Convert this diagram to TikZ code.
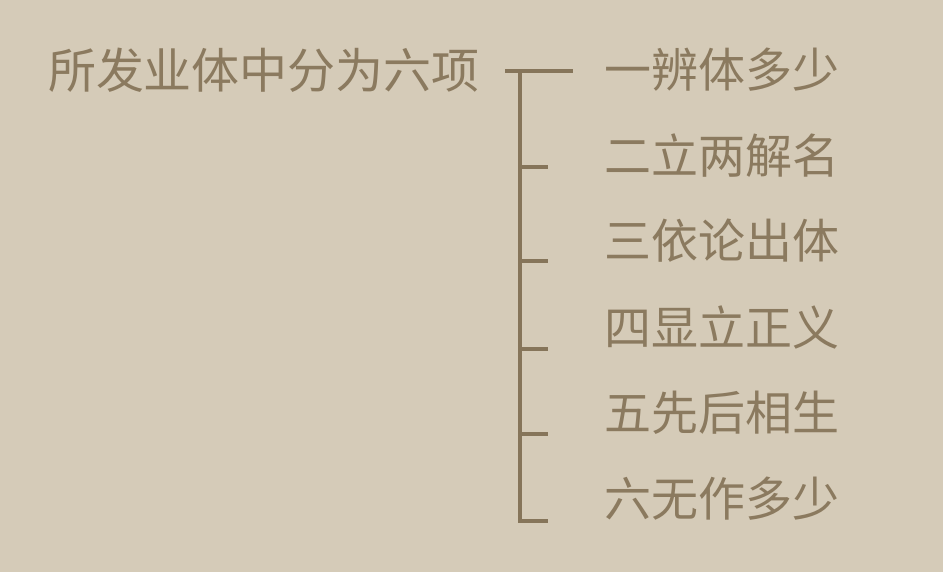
\documentclass[tikz,border=0pt]{standalone}
\usepackage{fontspec}
\newfontfamily\cjk{Noto Sans CJK SC}
\definecolor{bg}{HTML}{D5CBB8}
\definecolor{ink}{HTML}{8B7A5F}
\definecolor{rule}{HTML}{86755A}
\begin{document}
\begin{tikzpicture}[x=1pt,y=-1pt,
  title/.style={inner sep=0pt,anchor=base,text=ink,font=\cjk\fontsize{48}{48}\selectfont},
  item/.style={inner sep=0pt,anchor=base,text=ink,font=\cjk\fontsize{47}{47}\selectfont},
  bracketline/.style={draw=rule,line width=3.4pt}]
\fill[bg] (0,0) rectangle (943,572);
\useasboundingbox (0,0) rectangle (943,572);
\node[title] (t) at (264,89) {所发业体中分为六项};
\node[item] (i1) at (722,88) {一辨体多少};
\node[item] (i2) at (722,174) {二立两解名};
\node[item] (i3) at (722,259) {三依论出体};
\node[item] (i4) at (722,345) {四显立正义};
\node[item] (i5) at (722,430) {五先后相生};
\node[item] (i6) at (722,516) {六无作多少};
\coordinate (h0) at (505,71);
\coordinate (h1) at (573,71);
\coordinate (v0) at (520,71);
\coordinate (v1) at (520,521);
\coordinate (k2a) at (520,167); \coordinate (k2b) at (548,167);
\coordinate (k3a) at (520,261); \coordinate (k3b) at (548,261);
\coordinate (k4a) at (520,349); \coordinate (k4b) at (548,349);
\coordinate (k5a) at (520,434); \coordinate (k5b) at (548,434);
\coordinate (k6b) at (548,521);
\draw[bracketline] (h0) -- (h1);
\draw[bracketline] (v0) -- (v1) -- (k6b);
\draw[bracketline] (k2a) -- (k2b);
\draw[bracketline] (k3a) -- (k3b);
\draw[bracketline] (k4a) -- (k4b);
\draw[bracketline] (k5a) -- (k5b);
\end{tikzpicture}
\end{document}
